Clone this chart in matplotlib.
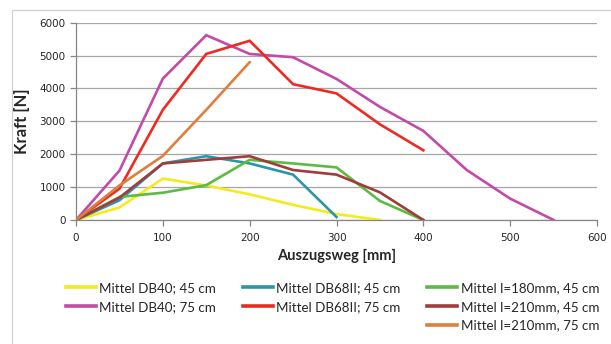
import matplotlib
matplotlib.use('Agg')
import matplotlib.pyplot as plt
from matplotlib.lines import Line2D
from matplotlib.patches import Rectangle

# Auszugsweg [mm]
x_db40_45 = [0, 50, 100, 150, 200, 250, 300, 350]
y_db40_45 = [0, 380, 1260, 1050, 780, 460, 180, 0]
x_db40_75 = [0, 50, 100, 150, 200, 250, 300, 350, 400, 450, 500, 550]
y_db40_75 = [0, 1500, 4300, 5620, 5050, 4950, 4290, 3440, 2710, 1520, 650, 0]
x_db68_45 = [0, 50, 100, 150, 200, 250, 300]
y_db68_45 = [0, 600, 1720, 1940, 1720, 1380, 90]
x_db68_75 = [0, 50, 100, 150, 200, 250, 300, 350, 400]
y_db68_75 = [0, 950, 3350, 5050, 5450, 4130, 3850, 2910, 2120]
x_l180_45 = [0, 50, 100, 150, 200, 250, 300, 350, 400]
y_l180_45 = [0, 700, 830, 1060, 1830, 1720, 1600, 580, 0]
x_l210_45 = [0, 50, 100, 150, 200, 250, 300, 350, 400]
y_l210_45 = [0, 680, 1720, 1830, 1940, 1520, 1380, 840, 0]
x_l210_75 = [0, 50, 100, 150, 200]
y_l210_75 = [0, 1050, 1950, 3350, 4800]

labels = ["Mittel DB40; 45 cm", "Mittel DB40; 75 cm",
          "Mittel DB68II; 45 cm", "Mittel DB68II; 75 cm",
          "Mittel l=180mm, 45 cm", "Mittel l=210mm, 45 cm",
          "Mittel l=210mm, 75 cm"]

YELLOW = "#f5ea1c"
MAGENTA = "#c24aa8"
BLUE = "#2b95ad"
RED = "#ee2a22"
GREEN = "#5dbb42"
BROWN = "#a03c3a"
ORANGE = "#de7f3e"
GRID = "#a6a6a6"
AXIS = "#868686"
TEXT = "#262626"

fig = plt.figure(figsize=(6.11, 3.44), dpi=100)
fig.patches.append(Rectangle((12 / 611, -0.1), 1.2, 1 - 10 / 344 + 0.1,
                             transform=fig.transFigure, fill=False,
                             edgecolor="#d0d0d0", linewidth=0.9))
ax = fig.add_axes([76 / 611, 1 - 220 / 344, (597 - 76) / 611, (220 - 22.7) / 344])

series = [
    (x_db40_45, y_db40_45, YELLOW),
    (x_db40_75, y_db40_75, MAGENTA),
    (x_db68_45, y_db68_45, BLUE),
    (x_db68_75, y_db68_75, RED),
    (x_l180_45, y_l180_45, GREEN),
    (x_l210_45, y_l210_45, BROWN),
    (x_l210_75, y_l210_75, ORANGE),
]
handles = []
for (xs, ys, c), lab in zip(series, labels):
    h, = ax.plot(xs, ys, color=c, lw=1.9, label=lab, solid_joinstyle='miter')
    handles.append(h)

ax.set_xlim(0, 600)
ax.set_ylim(0, 6000)
ax.set_xticks(range(0, 601, 100))
ax.set_yticks(range(0, 6001, 1000))
ax.yaxis.grid(True, color=GRID, lw=0.9)
ax.set_axisbelow(True)
for s in ["top", "right"]:
    ax.spines[s].set_visible(False)
for s in ["left", "bottom"]:
    ax.spines[s].set_color(AXIS)
    ax.spines[s].set_linewidth(0.9)
ax.tick_params(axis='both', colors=AXIS, labelcolor=TEXT, labelsize=7.5,
               length=4.5, width=0.9)
ax.tick_params(axis='x', pad=5)
ax.tick_params(axis='y', pad=3)

ax.set_xlabel("Auszugsweg [mm]", fontsize=10.5, fontweight='bold',
              family='Lato', color=TEXT, labelpad=4)
ax.set_ylabel("Kraft [N]", fontsize=12, fontweight='bold',
              family='Lato', color=TEXT, labelpad=7)

blank = Line2D([], [], color='none')
order = [handles[0], handles[1], blank,
         handles[2], handles[3], blank,
         handles[4], handles[5], handles[6]]
order_labels = [labels[0], labels[1], "",
                labels[2], labels[3], "",
                labels[4], labels[5], labels[6]]
leg = fig.legend(order, order_labels, ncol=3, loc='upper left',
                 bbox_to_anchor=(66 / 611, 1 - 282 / 344), frameon=False,
                 prop={'family': 'Lato', 'size': 9.6}, handlelength=2.25,
                 handletextpad=0.25, columnspacing=2.0, labelspacing=0.5,
                 borderaxespad=0, borderpad=0)
for t in leg.get_texts():
    t.set_color(TEXT)
for h in leg.legend_handles:
    h.set_linewidth(2.6)

fig.savefig("out.png", dpi=100)
